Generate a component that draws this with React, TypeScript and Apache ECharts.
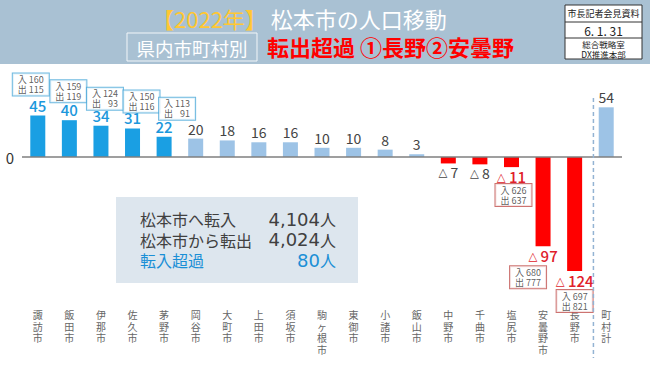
import React, { useEffect, useRef } from "react";
import * as echarts from "echarts";

const categories = ["諏訪市", "飯田市", "伊那市", "佐久市", "茅野市", "岡谷市", "大町市", "上田市", "須坂市", "駒ヶ根市", "東御市", "小諸市", "飯山市", "中野市", "千曲市", "塩尻市", "安曇野市", "長野市", "町村計"];
const netValues = [45, 40, 34, 31, 22, 20, 18, 16, 16, 10, 10, 8, 3, -7, -8, -11, -97, -124, 54];
const inflow: (number | null)[] = [160, 159, 124, 150, 113, null, null, null, null, null, null, null, null, null, null, 626, 680, 697, null];
const outflow: (number | null)[] = [115, 119, 93, 116, 91, null, null, null, null, null, null, null, null, null, null, 637, 777, 821, null];
const summaryLabels = ["松本市へ転入", "松本市から転出", "転入超過"];
const summaryNumbers = ["4,104", "4,024", "80"];
const summaryUnit = "人";

// layout offsets for the in/out boxes (px, box centre relative to the value point)
const boxOffsets: Record<number, [number, number]> = {
  0: [-7, -31], 1: [-1, -29], 2: [4, -27], 3: [9, -27], 4: [13, -28],
  15: [2, 28], 16: [-15, 31], 17: [0, 30],
};

const FONT = "'Noto Sans CJK JP', 'Noto Sans', sans-serif";
const NUMFONT = "'DejaVu Sans', 'Noto Sans', sans-serif";
const BRIGHT = "#1a9fe3";
const LIGHT = "#9dc3e6";
const RED = "#ff0000";
const LABEL_BLUE = "#1c98dc";
const LABEL_RED = "#e0202a";

export default function App() {
  const ref = useRef<HTMLDivElement>(null);
  useEffect(() => {
    if (!ref.current) return;
    const chart = echarts.init(ref.current, null, { renderer: "svg" });
    const figSpace = "\u2007";
    const pad = (n: number) => String(n).padStart(3, figSpace);

    const barData = netValues.map((v, i) => {
      const hi = inflow[i] != null;
      const color = v < 0 ? RED : hi ? BRIGHT : LIGHT;
      const labelColor = hi ? (v < 0 ? LABEL_RED : LABEL_BLUE) : "#444";
      const fs = hi ? 15 : 14;
      const fw = hi ? 500 : 400;
      return {
        value: v,
        itemStyle: { color },
        label: {
          show: true,
          position: v >= 0 ? "top" : "bottom",
          distance: v >= 0 ? 3 : 2,
          color: labelColor,
          fontSize: fs,
          fontWeight: fw,
          fontFamily: FONT,
          formatter: () => (v < 0 ? `{t|△} {n|${-v}}` : String(v)),
          rich: {
            t: { fontSize: 11.5, color: labelColor, fontFamily: NUMFONT },
            n: { fontSize: fs, color: labelColor, fontWeight: fw, fontFamily: FONT },
          },
        },
      };
    });

    const boxData = netValues
      .map((v, i) => ({ v, i }))
      .filter(({ i }) => inflow[i] != null)
      .map(({ v, i }) => ({
        value: [categories[i], v, inflow[i], outflow[i]],
        label: {
          offset: boxOffsets[i],
          borderColor: v < 0 ? "#c0504d" : "#4aa8d8",
        },
      }));

    chart.setOption({
      animation: false,
      backgroundColor: "#ffffff",
      grid: { left: 22, right: 28, top: 83.4, bottom: 60.8 },
      xAxis: {
        type: "category",
        data: categories,
        axisLine: { show: false, onZero: false },
        axisTick: { show: false },
        axisLabel: {
          interval: 0,
          color: "#666",
          fontSize: 10,
          lineHeight: 11.5,
          margin: 5,
          fontFamily: FONT,
          formatter: (s: string) => s.split("").join("\n"),
        },
      },
      yAxis: {
        type: "value",
        min: -160,
        max: 80,
        interval: 80,
        splitLine: { show: false },
        axisLine: { show: false },
        axisTick: { show: false },
        axisLabel: {
          formatter: (v: number) => (v === 0 ? "0" : ""),
          fontSize: 15,
          color: "#333",
          margin: 8,
          fontFamily: FONT,
        },
      },
      series: [
        {
          type: "bar",
          data: barData,
          barWidth: 15,
          markLine: {
            silent: true,
            symbol: "none",
            label: { show: false },
            lineStyle: { color: "#7f7f7f", width: 1.5, type: "solid" },
            data: [{ yAxis: 0 }],
          },
        },
        {
          type: "scatter",
          symbolSize: 0,
          z: 5,
          data: boxData,
          label: {
            show: true,
            position: "inside",
            fontSize: 9,
            lineHeight: 10,
            color: "#333",
            fontFamily: FONT,
            backgroundColor: "#ffffff",
            borderWidth: 1,
            padding: [1, 5, 1, 5],
            formatter: (p: any) => `入 ${pad(p.value[2])}\n出 ${pad(p.value[3])}`,
          },
        },
      ],
    });

    const xA = chart.convertToPixel({ xAxisIndex: 0 }, "長野市") as number;
    const xB = chart.convertToPixel({ xAxisIndex: 0 }, "町村計") as number;
    const dashX = (xA + xB) / 2 + 3;

    const sumColor = (k: number) => (k === 2 ? "#1a8fd6" : "#404040");

    chart.setOption({
      graphic: [
        // header band
        { type: "rect", shape: { x: 0, y: 0, width: 650, height: 64 }, style: { fill: "#a9c1d3" }, z: -1 },
        {
          type: "text", x: 152, y: 18,
          style: {
            text: "{y|【2022年】}{w|松本市の人口移動}",
            verticalAlign: "middle",
            rich: {
              y: { fontSize: 22, fill: "#ffc733", fontFamily: FONT },
              w: { fontSize: 22, fill: "#ffffff", fontFamily: FONT, padding: [0, 0, 0, 4] },
            },
          },
        },
        { type: "rect", shape: { x: 127, y: 33, width: 130, height: 28 }, style: { fill: "none", stroke: "#f2f6f9", lineWidth: 1 } },
        { type: "text", x: 192, y: 47.5, style: { text: "県内市町村別", fontSize: 18.5, fill: "#ffffff", fontFamily: FONT, align: "center", verticalAlign: "middle" } },
        { type: "text", x: 267, y: 46, style: { text: "転出超過 ①長野②安曇野", fontSize: 22, fontWeight: "bold", fill: "#ff0000", fontFamily: FONT, align: "left", verticalAlign: "middle" } },
        // top-right box
        { type: "rect", shape: { x: 565, y: 5, width: 77, height: 54 }, style: { fill: "#ffffff", stroke: "#333", lineWidth: 1 } },
        { type: "line", shape: { x1: 565, y1: 22, x2: 642, y2: 22 }, style: { stroke: "#333", lineWidth: 1 } },
        { type: "line", shape: { x1: 565, y1: 38, x2: 642, y2: 38 }, style: { stroke: "#333", lineWidth: 1 } },
        { type: "text", x: 603.5, y: 13.5, style: { text: "市長記者会見資料", fontSize: 9, fill: "#222", fontFamily: FONT, align: "center", verticalAlign: "middle" } },
        { type: "text", x: 603.5, y: 30.5, style: { text: "6. 1. 31", fontSize: 12, fill: "#222", fontFamily: FONT, align: "center", verticalAlign: "middle" } },
        { type: "text", x: 603.5, y: 44, style: { text: "総合戦略室", fontSize: 8.5, fill: "#222", fontFamily: FONT, align: "center", verticalAlign: "middle" } },
        { type: "text", x: 603.5, y: 53.5, style: { text: "DX推進本部", fontSize: 8.5, fill: "#222", fontFamily: FONT, align: "center", verticalAlign: "middle" } },
        // dashed separator
        { type: "line", shape: { x1: dashX, y1: 98, x2: dashX, y2: 358 }, style: { stroke: "#93b3d3", lineWidth: 1.5, lineDash: [4, 3] }, z: 10 },
        // summary box
        { type: "rect", shape: { x: 116, y: 197, width: 242, height: 86 }, style: { fill: "#dde6ee" }, z: 1 },
        ...summaryLabels.map((t, k) => ({
          type: "text", x: 140, y: 219 + k * 20.5, z: 2,
          style: { text: t, fontSize: 16, fill: sumColor(k), fontFamily: FONT, align: "left", verticalAlign: "middle" },
        })),
        ...summaryNumbers.map((t, k) => ({
          type: "text", x: 336, y: 219 + k * 20.5, z: 2,
          style: {
            text: `{n|${t}}{u|${summaryUnit}}`,
            align: "right",
            verticalAlign: "middle",
            rich: {
              n: { fontSize: 18, fill: sumColor(k), fontFamily: NUMFONT },
              u: { fontSize: 16, fill: sumColor(k), fontFamily: FONT },
            },
          },
        })),
      ],
    });

    return () => chart.dispose();
  }, []);
  return <div ref={ref} style={{ position: "fixed", left: 0, top: 0, width: 650, height: 365 }} />;
}
